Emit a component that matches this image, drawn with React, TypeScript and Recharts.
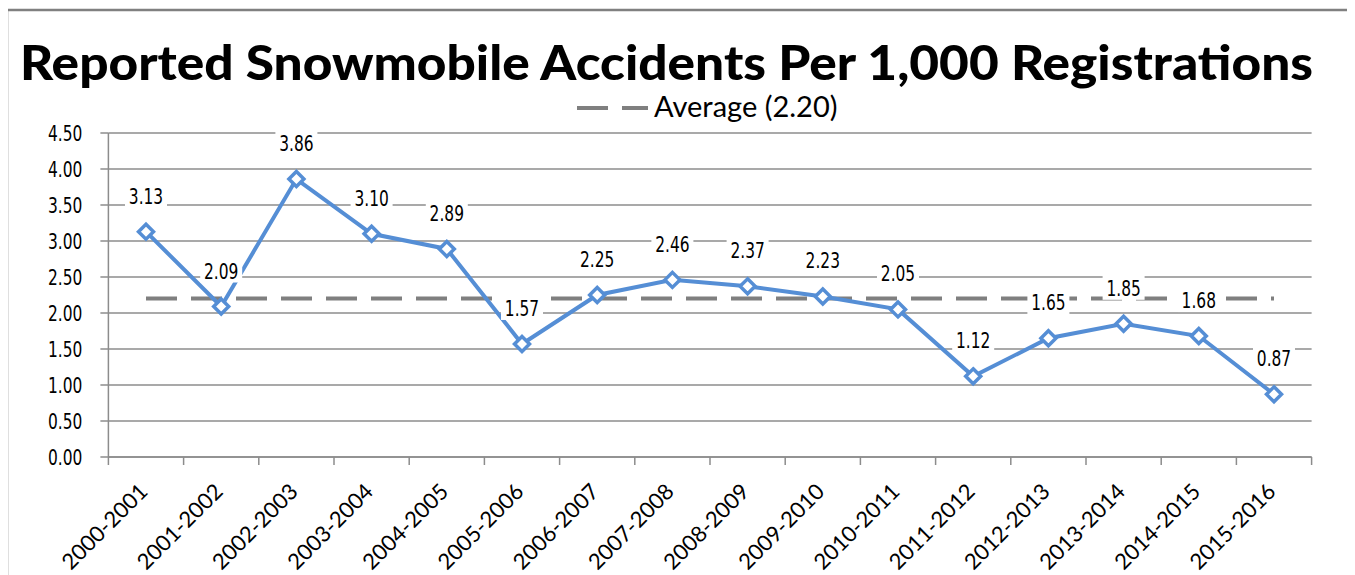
import {
    LineChart,
    Line,
    XAxis,
    YAxis,
    CartesianGrid,
    LabelList,
} from 'recharts'

const seasons = [
    '2000-2001', '2001-2002', '2002-2003', '2003-2004', '2004-2005', '2005-2006',
    '2006-2007', '2007-2008', '2008-2009', '2009-2010', '2010-2011', '2011-2012',
    '2012-2013', '2013-2014', '2014-2015', '2015-2016',
]
const accidentRates = [3.13, 2.09, 3.86, 3.10, 2.89, 1.57, 2.25, 2.46, 2.37, 2.23, 2.05, 1.12, 1.65, 1.85, 1.68, 0.87]
const averageRate = 2.20
const yTicks = [0, 0.5, 1, 1.5, 2, 2.5, 3, 3.5, 4, 4.5]

const dados = seasons.map((season, i) => ({
    season,
    rate: accidentRates[i],
    avg: averageRate,
}))

const W = 1355
const H = 575
const PLOT_LEFT = 108.4
const PLOT_RIGHT = 1311.6
const PLOT_TOP = 133
const PLOT_BOTTOM = 457
const BAND = (PLOT_RIGHT - PLOT_LEFT) / seasons.length

const BLUE = '#558ed5'
const GRID = '#8c8c8c'
const FRAME = '#808080'
const NARROW = "'DejaVu Sans Condensed', 'DejaVu Sans', sans-serif"
const HUMANIST = "Lato, 'Open Sans', sans-serif"

function Diamond(props: any) {
    const { cx, cy } = props
    if (cx == null || cy == null) return null
    const r = 7.5
    return (
        <path
            d={`M${cx},${cy - r}L${cx + r},${cy}L${cx},${cy + r}L${cx - r},${cy}Z`}
            fill="#fff"
            stroke={BLUE}
            strokeWidth={3.5}
        />
    )
}

// squeezed text, to get close to the condensed face of the original
function Narrow({ x, y, anchor, size, children }: any) {
    return (
        <text
            transform={`translate(${x} ${y}) scale(0.78 1)`}
            textAnchor={anchor}
            fontFamily={NARROW}
            fontSize={size}
            fill="#000"
        >
            {children}
        </text>
    )
}

function ValueLabel(props: any) {
    const { x, y, value } = props
    return (
        <g>
            <rect x={x - 21} y={y - 49} width={42} height={25} fill="#fff" />
            <Narrow x={x} y={y - 28} anchor="middle" size={22}>
                {Number(value).toFixed(2)}
            </Narrow>
        </g>
    )
}

function RateTick(props: any) {
    const { x, y, payload } = props
    return (
        <Narrow x={x} y={y + 8} anchor="end" size={22}>
            {Number(payload.value).toFixed(2)}
        </Narrow>
    )
}

function SeasonTick(props: any) {
    const { x, payload, index } = props
    const px = x + 3
    const py = PLOT_BOTTOM + 36
    const last = index === seasons.length - 1
    return (
        <g>
            <line x1={x - BAND / 2} y1={PLOT_BOTTOM} x2={x - BAND / 2} y2={PLOT_BOTTOM + 8} stroke={GRID} strokeWidth={1.5} />
            {last && (
                <line x1={x + BAND / 2} y1={PLOT_BOTTOM} x2={x + BAND / 2} y2={PLOT_BOTTOM + 8} stroke={GRID} strokeWidth={1.5} />
            )}
            <text
                x={px}
                y={py}
                transform={`rotate(-45 ${px} ${py})`}
                textAnchor="end"
                fontFamily={HUMANIST}
                fontSize={22}
                fill="#000"
            >
                {payload.value}
            </text>
        </g>
    )
}

export default function App() {
    return (
        <div style={{ position: 'relative', width: W, height: H, margin: '-8px 0 0 -8px', overflow: 'hidden', background: '#fff' }}>
            <svg width={W} height={H} style={{ position: 'absolute', left: 0, top: 0, display: 'block' }}>
                <line x1={6} y1={10} x2={1353} y2={10} stroke={FRAME} strokeWidth={2.5} />
                <line x1={7} y1={9} x2={7} y2={H} stroke={FRAME} strokeWidth={2.5} />
                <line x1={1352} y1={9} x2={1352} y2={H} stroke={FRAME} strokeWidth={2.5} />
                <text
                    x={20}
                    y={80}
                    textLength={1293}
                    lengthAdjust="spacingAndGlyphs"
                    fontFamily={HUMANIST}
                    fontWeight={900}
                    fontSize={48}
                    fill="#000"
                >
                    Reported Snowmobile Accidents Per 1,000 Registrations
                </text>
                <line x1={577} y1={108} x2={648} y2={108} stroke="#7f7f7f" strokeWidth={4} strokeDasharray="31 14" />
                <text x={654} y={117} fontFamily={HUMANIST} fontSize={29} fill="#000">
                    Average (2.20)
                </text>
            </svg>
            <div style={{ position: 'absolute', left: 0, top: 0 }}>
                <LineChart
                    width={W}
                    height={H}
                    data={dados}
                    margin={{ top: PLOT_TOP, right: W - PLOT_RIGHT, bottom: 0, left: 0 }}
                >
                    <CartesianGrid vertical={false} stroke={GRID} strokeWidth={1.5} />
                    <XAxis
                        dataKey="season"
                        scale="band"
                        interval={0}
                        tick={<SeasonTick />}
                        tickLine={false}
                        tickSize={0}
                        tickMargin={0}
                        axisLine={{ stroke: GRID, strokeWidth: 1.5 }}
                        height={H - PLOT_BOTTOM}
                    />
                    <YAxis
                        width={PLOT_LEFT}
                        domain={[0, 4.5]}
                        ticks={yTicks}
                        interval={0}
                        tick={<RateTick />}
                        tickSize={8}
                        tickMargin={18}
                        tickLine={{ stroke: GRID, strokeWidth: 1.5 }}
                        axisLine={{ stroke: GRID, strokeWidth: 1.5 }}
                    />
                    <Line
                        dataKey="avg"
                        stroke="#7f7f7f"
                        strokeWidth={4}
                        strokeDasharray="31 14"
                        dot={false}
                        activeDot={false}
                        isAnimationActive={false}
                    />
                    <Line
                        dataKey="rate"
                        stroke={BLUE}
                        strokeWidth={4}
                        dot={<Diamond />}
                        activeDot={false}
                        isAnimationActive={false}
                    >
                        <LabelList dataKey="rate" content={<ValueLabel />} />
                    </Line>
                </LineChart>
            </div>
        </div>
    )
}
